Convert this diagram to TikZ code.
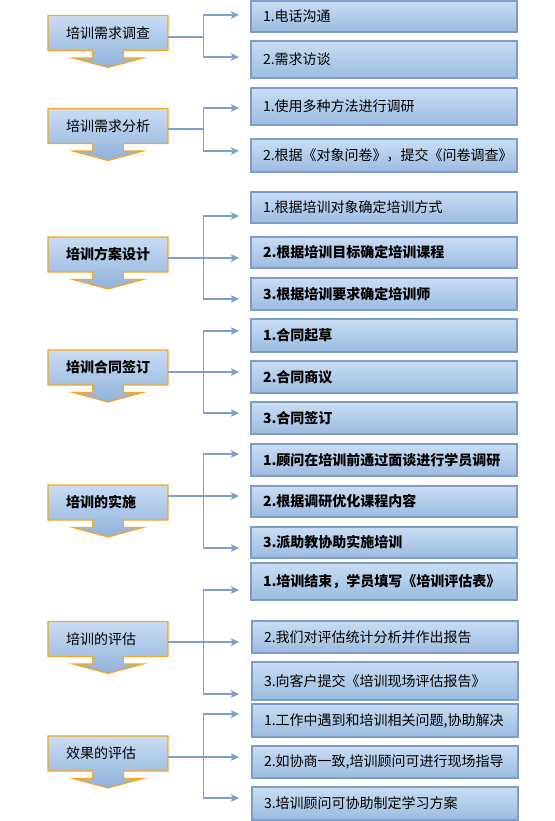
\documentclass[tikz,border=0pt]{standalone}
\usepackage{fontspec}
\setmainfont{Noto Sans CJK SC}
\usetikzlibrary{arrows.meta,backgrounds}
\definecolor{Edge}{HTML}{7F9EC7}
\definecolor{Top}{HTML}{C9DDF3}
\definecolor{Bot}{HTML}{9BBBE0}
\definecolor{Tip}{HTML}{8FB1DB}
\definecolor{Rim}{HTML}{F6A623}
\definecolor{Wire}{HTML}{7EA1CB}

\begin{document}
\begin{tikzpicture}[x=1pt,y=-1pt,
 font=\fontsize{14}{16}\selectfont,
 bold/.style={font=\fontsize{14}{16}\selectfont\bfseries},
 stage/.style={minimum width=120pt,minimum height=35pt,text width=84pt,inner xsep=18pt,inner ysep=0pt,outer sep=0pt,align=left},
 item/.style={draw=Edge,line width=1.1pt,top color=Top,bottom color=Bot,minimum width=266pt,minimum height=32pt,text width=242pt,inner xsep=12pt,inner ysep=0pt,outer sep=0pt,align=left},
 callout/.style={draw=Rim,line width=1.2pt,line join=miter,top color=Top,bottom color=Tip},
 link/.style={draw=Wire,line width=1.4pt},
 a/.style={link,-{Stealth[length=8pt,width=7.5pt,inset=1.5pt]}}
]
\useasboundingbox (0,0) rectangle (554,821);
% stages
\node[stage] (s1) at (108,33) {培训需求调查};
\node[stage] (s2) at (108,126) {培训需求分析};
\node[stage,bold] (s3) at (108,254.5) {培训方案设计};
\node[stage,bold] (s4) at (108,367.5) {培训合同签订};
\node[stage,bold] (s5) at (108,502.5) {培训的实施};
\node[stage] (s6) at (108,639) {培训的评估};
\node[stage] (s7) at (108,753.5) {效果的评估};
\begin{scope}[on background layer]
\foreach \i in {1,...,7}
 \path[callout] (s\i.north west) -- (s\i.north east) -- (s\i.south east)
  -- ([xshift=15.5pt]s\i.south) -- ([xshift=15.5pt,yshift=-7.5pt]s\i.south)
  -- ([xshift=35pt,yshift=-7.5pt]s\i.south) -- ([yshift=-17pt]s\i.south)
  -- ([xshift=-35pt,yshift=-7.5pt]s\i.south) -- ([xshift=-15.5pt,yshift=-7.5pt]s\i.south)
  -- ([xshift=-15.5pt]s\i.south) -- (s\i.south west) -- cycle;
\end{scope}
% steps
\node[item,minimum height=31pt] (t11) at (384,16.5) {1.电话沟通};
\node[item,minimum height=37pt] (t12) at (384,59.5) {2.需求访谈};
\node[item,minimum height=37pt] (t21) at (384,106.5) {1.使用多种方法进行调研};
\node[item,minimum height=33pt] (t22) at (384,155.5) {2.根据《对象问卷》，提交《问卷调查》};
\node[item,minimum height=31pt] (t31) at (384,207.5) {1.根据培训对象确定培训方式};
\node[item,bold,minimum height=31pt] (t32) at (384,252.5) {2.根据培训目标确定培训课程};
\node[item,bold] (t33) at (384,294) {3.根据培训要求确定培训师};
\node[item,bold,minimum height=33pt] (t41) at (384,335.5) {1.合同起草};
\node[item,bold] (t42) at (384,377) {2.合同商议};
\node[item,bold] (t43) at (384,418) {3.合同签订};
\node[item,bold] (t51) at (384,460) {1.顾问在培训前通过面谈进行学员调研};
\node[item,bold,minimum height=31pt] (t52) at (384,501.5) {2.根据调研优化课程内容};
\node[item,bold,minimum height=31pt] (t53) at (384,542.5) {3.派助教协助实施培训};
\node[item,bold,minimum height=37pt] (t61) at (384,581.5) {1.培训结束，学员填写《培训评估表》};
\node[item] (t62) at (385,637) {2.我们对评估统计分析并作出报告};
\node[item,minimum height=38pt] (t63) at (385,681) {3.向客户提交《培训现场评估报告》};
\node[item,minimum height=33pt] (t71) at (385,720.5) {1.工作中遇到和培训相关问题,协助解决};
\node[item] (t72) at (385,762) {2.如协商一致,培训顾问可进行现场指导};
\node[item,minimum height=33pt] (t73) at (385,803.5) {3.培训顾问可协助制定学习方案};
% branch points and arrow ends
\coordinate (j1) at (203.5,37);  \coordinate (e11) at (239,15);  \coordinate (e12) at (239,57);
\coordinate (j2) at (203.5,129); \coordinate (e21) at (239,108); \coordinate (e22) at (239,151);
\coordinate (j3) at (203.5,258); \coordinate (e31) at (239,216); \coordinate (e32) at (239,258); \coordinate (e33) at (239,299);
\coordinate (j4) at (203.5,372); \coordinate (e41) at (239,331); \coordinate (e42) at (239,372); \coordinate (e43) at (239,413);
\coordinate (j5) at (203.5,496); \coordinate (e51) at (239,454); \coordinate (e52) at (239,496); \coordinate (e53) at (239,548);
\coordinate (j6) at (203.5,642); \coordinate (e61) at (239,590); \coordinate (e62) at (239,642); \coordinate (e63) at (239,694);
\coordinate (j7) at (203.5,757); \coordinate (e71) at (239,714); \coordinate (e72) at (239,757); \coordinate (e73) at (239,798);
\foreach \i in {1,...,7} \draw[link] (s\i.east |- j\i) -- (j\i);
\draw[a] (j1) |- (e11); \draw[a] (j1) |- (e12);
\draw[a] (j2) |- (e21); \draw[a] (j2) |- (e22);
\foreach \i in {3,...,7} {\draw[a] (j\i) |- (e\i1); \draw[a] (j\i) -- (e\i2); \draw[a] (j\i) |- (e\i3);}
\end{tikzpicture}
\end{document}
